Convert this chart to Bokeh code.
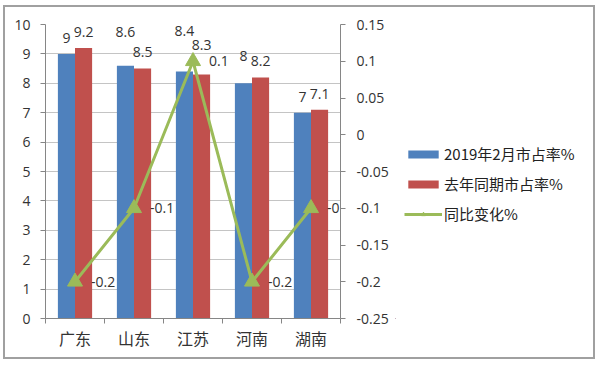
from bokeh.plotting import figure
from bokeh.layouts import row
from bokeh.models import (Range1d, LinearAxis, FixedTicker, CustomJSTickFormatter,
                          ColumnDataSource, Legend, LegendItem)
from bokeh.embed import file_html
from bokeh.resources import INLINE
from bokeh.core.properties import value

# ---------------- data ----------------
categories = ["广东", "山东", "江苏", "河南", "湖南"]
share_2019_feb = [9, 8.6, 8.4, 8, 7]
share_last_year = [9.2, 8.5, 8.3, 8.2, 7.1]
yoy_change = [-0.2, -0.1, 0.1, -0.2, -0.1]
series_names = ["2019年2月市占率%", "去年同期市占率%", "同比变化%"]
left_ticks = [0, 1, 2, 3, 4, 5, 6, 7, 8, 9, 10]
right_ticks = [-0.25, -0.2, -0.15, -0.1, -0.05, 0, 0.05, 0.1, 0.15]

# extra lift (px) of some data labels, as the reference de-overlaps them
blue_label_nudge = [0, 18, 25, 11, 0]
red_label_nudge = [0, 1, 13, 0, 0]

# ---------------- styles ----------------
BLUE, RED, GREEN = "#4F81BD", "#C0504D", "#9BBB59"
AXIS, GRID, TXT = "#868686", "#c4c4c4", "#333333"
NUM_FONT = "Open Sans"
CJK_FONT = "Noto Sans CJK SC"
BAR_W = 0.29
LABEL_LIFT = 16
H = 350
W_MAIN = 390
W_ALL = 588

idx = list(range(len(categories)))
src = ColumnDataSource(dict(
    xc=[i + 0.5 for i in idx],
    xb=[i + 0.5 - BAR_W / 2 for i in idx],
    xr=[i + 0.5 + BAR_W / 2 for i in idx],
    blue=share_2019_feb,
    red=share_last_year,
    yoy=yoy_change,
    blue_txt=[f"{v:g}" for v in share_2019_feb],
    red_txt=[f"{v:g}" for v in share_last_year],
    yoy_txt=[f"{v:g}" for v in yoy_change],
    blue_off=[-(LABEL_LIFT + n) for n in blue_label_nudge],
    red_off=[-(LABEL_LIFT + n) for n in red_label_nudge],
))

p = figure(width=W_MAIN, height=H, x_range=Range1d(0, len(categories)),
           y_range=Range1d(0, 10), output_backend="svg", toolbar_location=None,
           min_border_left=40, min_border_right=55, min_border_top=17,
           min_border_bottom=39)
p.outline_line_color = None
p.background_fill_color = "white"
p.border_fill_color = "white"

p.extra_y_ranges = {"right": Range1d(right_ticks[0], right_ticks[-1])}

# grid
p.xgrid.visible = False
p.ygrid.ticker = FixedTicker(ticks=left_ticks)
p.ygrid.grid_line_color = GRID

# left axis
ya = p.yaxis[0]
ya.ticker = FixedTicker(ticks=left_ticks)
ya.axis_line_color = AXIS
ya.major_tick_line_color = AXIS
ya.major_tick_in = 0
ya.major_tick_out = 5
ya.minor_tick_line_color = None
ya.major_label_standoff = 10
ya.major_label_text_font = NUM_FONT
ya.major_label_text_font_size = "14px"
ya.major_label_text_color = TXT

# right axis
ra = LinearAxis(y_range_name="right", ticker=FixedTicker(ticks=right_ticks),
                formatter=CustomJSTickFormatter(code="return String(parseFloat(tick.toFixed(2)));"))
ra.axis_line_color = AXIS
ra.major_tick_line_color = AXIS
ra.major_tick_in = 0
ra.major_tick_out = 5
ra.minor_tick_line_color = None
ra.major_label_standoff = 11
ra.major_label_text_font = NUM_FONT
ra.major_label_text_font_size = "14px"
ra.major_label_text_color = TXT
p.add_layout(ra, "right")

# x axis: labels at category centres, ticks at boundaries
xa = p.xaxis[0]
xa.ticker = FixedTicker(ticks=[i + 0.5 for i in idx], minor_ticks=list(range(len(categories) + 1)))
xa.formatter = CustomJSTickFormatter(args=dict(cats=categories), code="return cats[Math.floor(tick)];")
xa.axis_line_color = AXIS
xa.major_tick_line_color = None
xa.major_tick_in = 0
xa.major_tick_out = 0
xa.minor_tick_line_color = AXIS
xa.minor_tick_in = 0
xa.minor_tick_out = 5
xa.major_label_standoff = 2
xa.major_label_text_font = CJK_FONT
xa.major_label_text_font_size = "16px"
xa.major_label_text_color = TXT

# bars
bar_kw = dict(width=BAR_W, bottom=0, line_color=None)
p.vbar(x="xb", top="blue", source=src, fill_color=BLUE, **bar_kw)
p.vbar(x="xr", top="red", source=src, fill_color=RED, **bar_kw)

txt_kw = dict(text_font=value(NUM_FONT), text_font_size="14px", text_color=TXT,
              text_baseline="middle")
p.text(x="xb", y="blue", text="blue_txt", y_offset="blue_off", source=src,
       text_align="center", **txt_kw)
p.text(x="xr", y="red", text="red_txt", y_offset="red_off", source=src,
       text_align="center", **txt_kw)

# line
line_kw = dict(line_color=GREEN, line_width=3)
mark_kw = dict(marker="triangle", size=15, fill_color=GREEN, line_color=GREEN)
p.line(x="xc", y="yoy", source=src, y_range_name="right", **line_kw)
p.scatter(x="xc", y="yoy", source=src, y_range_name="right", **mark_kw)
p.text(x="xc", y="yoy", text="yoy_txt", source=src, y_range_name="right", x_offset=16,
       text_align="left", **txt_kw)

# ---------------- legend panel ----------------
lg = figure(width=W_ALL - W_MAIN, height=H, x_range=Range1d(100, 101), y_range=Range1d(100, 101),
            output_backend="svg", toolbar_location=None,
            x_axis_location=None, y_axis_location=None,
            min_border_left=0, min_border_right=0, min_border_top=0, min_border_bottom=0)
lg.grid.visible = False
lg.outline_line_color = None
lg.border_fill_color = "white"
# legend keys reuse the same source; the ranges keep them off-screen
kb = lg.vbar(x="xb", top="blue", source=src, fill_color=BLUE, **bar_kw)
kr = lg.vbar(x="xr", top="red", source=src, fill_color=RED, **bar_kw)
kl = lg.line(x="xc", y="yoy", source=src, **line_kw)
km = lg.scatter(x="xc", y="yoy", source=src, **mark_kw)

legend = Legend(items=[LegendItem(label=series_names[0], renderers=[kb]),
                       LegendItem(label=series_names[1], renderers=[kr]),
                       LegendItem(label=series_names[2], renderers=[kl, km])],
                location=(9, 94), orientation="vertical",
                glyph_width=38, glyph_height=10, label_height=17, label_standoff=2,
                spacing=9, padding=0, margin=0, border_line_color=None,
                background_fill_alpha=0, label_text_font=CJK_FONT,
                label_text_font_size="15px", label_text_color="#222222")
lg.add_layout(legend, "center")

layout = row(p, lg, margin=(5, 0, 0, 3), styles={"border": "2px solid #a0a0a0"})
open("out.html", "w").write(file_html(layout, INLINE))
